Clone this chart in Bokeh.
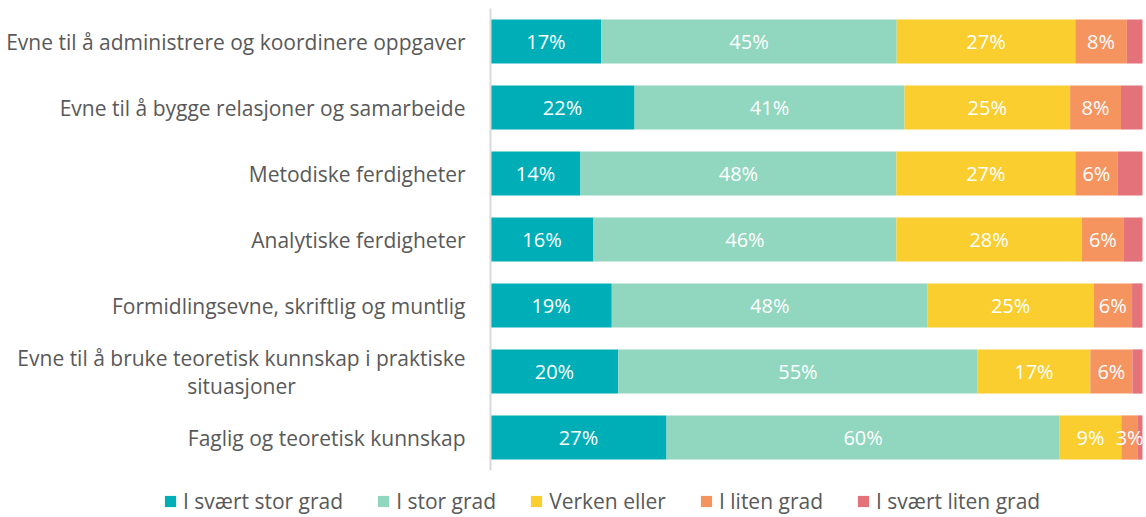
from bokeh.plotting import figure
from bokeh.models import ColumnDataSource, Legend, LegendItem, Range1d
from bokeh.core.properties import value
from bokeh.embed import file_html
from bokeh.resources import INLINE

categories = [
    "Evne til å administrere og koordinere oppgaver",
    "Evne til å bygge relasjoner og samarbeide",
    "Metodiske ferdigheter",
    "Analytiske ferdigheter",
    "Formidlingsevne, skriftlig og muntlig",
    "Evne til å bruke teoretisk kunnskap i praktiske\nsituasjoner",
    "Faglig og teoretisk kunnskap",
]
series = ["I svært stor grad", "I stor grad", "Verken eller", "I liten grad", "I svært liten grad"]
svaert_stor = [17.0, 22.1, 13.8, 15.8, 18.6, 19.6, 27.0]
stor = [45.3, 41.4, 48.45, 46.45, 48.45, 55.1, 60.3]
verken = [27.4, 25.4, 27.45, 28.45, 25.45, 17.3, 9.45]
liten = [7.9, 7.8, 6.45, 6.45, 5.9, 6.45, 2.55]
svaert_liten = [2.4, 3.3, 3.85, 2.85, 1.6, 1.55, 0.7]
colors = ["#00AEB8", "#91D6BE", "#F9CE2E", "#F5945F", "#E4727A"]

FONT = "Open Sans"
W, H = 1146, 517
n = len(categories)
pos = list(range(n))

data = {"pos": pos}
all_vals = [svaert_stor, stor, verken, liten, svaert_liten]
for name, vals in zip(series, all_vals):
    data[name] = vals
source = ColumnDataSource(data)

# frame covers the whole canvas; axis at 490px, 100 % at 1142px, rows 66px apart
px_per_pct = 6.52
px_per_row = 66.0
x_range = Range1d(-490 / px_per_pct, (W - 490) / px_per_pct)
y_range = Range1d((H - 41) / px_per_row, -41 / px_per_row)

p = figure(
    x_range=x_range, y_range=y_range,
    width=W, height=H,
    output_backend="svg", toolbar_location=None,
    min_border_left=0, min_border_right=0, min_border_top=0, min_border_bottom=0,
)
p.xaxis.visible = False
p.yaxis.visible = False
p.xgrid.visible = False
p.ygrid.visible = False
p.outline_line_color = None

renderers = p.hbar_stack(series, y="pos", height=0.67, color=colors, source=source, line_color=None)

# vertical axis line
p.segment(x0=[0], y0=[-0.5], x1=[0], y1=[n - 0.5], line_color="#D9D9D9", line_width=2)

# category labels
single_y, single_t = [], []
ml_y, ml_t, ml_off = [], [], []
for i, cat in enumerate(categories):
    lines = cat.split("\n")
    if len(lines) == 1:
        single_y.append(pos[i]); single_t.append(cat)
    else:
        k = len(lines)
        for j, ln in enumerate(lines):
            ml_y.append(pos[i]); ml_t.append(ln); ml_off.append((j - (k - 1) / 2) * 28)
p.text(x=[0] * len(single_y), y=single_y, text=single_t, x_offset=-25,
       text_font=value(FONT), text_font_size="21px", text_color="#595959",
       text_align="right", text_baseline="middle")
p.text(x=[0] * len(ml_y), y=ml_y, text=ml_t, x_offset=-249, y_offset=ml_off,
       text_font=value(FONT), text_font_size="21px", text_color="#595959",
       text_align="center", text_baseline="middle")

# value labels (skip the last, smallest series)
lx, ly, lt = [], [], []
for i in range(n):
    left = 0.0
    for j, vals in enumerate(all_vals):
        v = vals[i]
        if j < 4:
            lx.append(left + v / 2)
            ly.append(pos[i])
            lt.append(f"{round(v)}%")
        left += v
p.text(x=lx, y=ly, text=lt, text_color="white",
       text_font=value(FONT), text_font_size="20px",
       text_align="center", text_baseline="middle")

legend = Legend(
    items=[LegendItem(label=s, renderers=[r]) for s, r in zip(series, renderers)],
    orientation="horizontal",
    location=(163, 2),
    label_text_font=FONT,
    label_text_font_size="21px",
    label_text_color="#595959",
    glyph_width=14, glyph_height=14,
    label_standoff=6,
    spacing=33,
    border_line_color=None,
    background_fill_alpha=0,
    margin=0, padding=0,
)
p.add_layout(legend, "center")

open("out.html", "w").write(file_html(p, INLINE))
